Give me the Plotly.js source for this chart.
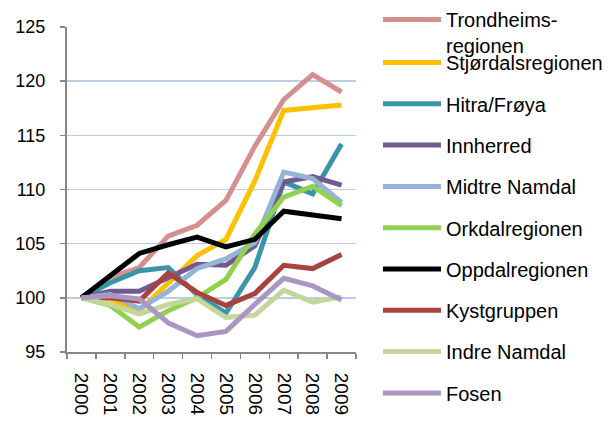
<!DOCTYPE html>
<html>
<head>
<meta charset="utf-8">
<script src="https://cdn.plot.ly/plotly-3.0.1.min.js"></script>
<style>html,body{margin:0;padding:0;background:#fff;}#chart{width:614px;height:421px;}</style>
</head>
<body>
<div id="chart"></div>
<script>
var years = ["2000","2001","2002","2003","2004","2005","2006","2007","2008","2009"];
var seriesNames = ["Trondheims-<br>regionen","Stjørdalsregionen","Hitra/Frøya","Innherred","Midtre Namdal","Orkdalregionen","Oppdalregionen","Kystgruppen","Indre Namdal","Fosen"];
var trondheims = [100, 101.9, 102.8, 105.7, 106.7, 109.0, 114.0, 118.3, 120.6, 119.0];
var stjordal   = [100, 99.9, 98.8, 101.3, 103.9, 105.4, 110.8, 117.3, 117.6, 117.8];
var hitra      = [100, 101.4, 102.5, 102.8, 100.3, 98.6, 102.8, 110.7, 109.6, 114.2];
var innherred  = [100, 100.6, 100.6, 101.9, 103.1, 103.0, 104.8, 110.7, 111.2, 110.4];
var midtre     = [100, 100.3, 99.0, 100.6, 102.7, 103.6, 105.1, 111.6, 111.0, 108.8];
var orkdal     = [100, 99.3, 97.3, 98.8, 100.0, 101.7, 105.9, 109.3, 110.3, 108.5];
var oppdal     = [100, 102.1, 104.1, 104.9, 105.6, 104.7, 105.4, 108.0, 107.6, 107.3];
var kyst       = [100, 100.0, 99.7, 102.3, 100.5, 99.3, 100.4, 103.0, 102.7, 104.0];
var indre      = [100, 99.4, 98.5, 99.4, 99.9, 98.2, 98.4, 100.7, 99.6, 100.1];
var fosen      = [100, 100.2, 99.9, 97.7, 96.5, 96.9, 99.4, 101.8, 101.1, 99.8];
var colors = ["#D4908E","#FFC000","#3A94AA","#72598F","#95B3D7","#92D050","#000000","#A8423F","#C3D69B","#A996C2"];

var allValues = [trondheims, stjordal, hitra, innherred, midtre, orkdal, oppdal, kyst, indre, fosen];
var traces = allValues.map(function(vals, i){
  return {
    x: years, y: vals, type: "scatter", mode: "lines",
    name: seriesNames[i], legendgroup: "g"+i,
    legend: i === 0 ? "legend" : "legend2",
    line: {color: colors[i], width: 5}
  };
});

var font = "Liberation Sans, Arial, sans-serif";
var legendCommon = {
  xref: "container", yref: "container",
  x: 0.6156, xanchor: "left", yanchor: "top",
  font: {family: font, size: 20, color: "#000"},
  valign: "top", itemwidth: 58, tracegroupgap: 12.3,
  maxheight: 421,
  bgcolor: "rgba(0,0,0,0)", borderwidth: 0
};
var layout = {
  width: 614, height: 421,
  margin: {l: 67, r: 258, t: 27, b: 69},
  paper_bgcolor: "#fff", plot_bgcolor: "#fff",
  showlegend: true,
  font: {family: font, size: 18, color: "#000"},
  xaxis: {
    type: "category", range: [-0.5, 9.5],
    showline: true, linecolor: "#868686", linewidth: 2,
    ticks: "outside", ticklen: 5, tickcolor: "#868686", tickwidth: 1.5,
    tickson: "boundaries", showgrid: false, zeroline: false,
    tickangle: 90, ticklabelstandoff: 15,
    tickfont: {family: font, size: 19, color: "#000"}
  },
  yaxis: {
    range: [95, 125], dtick: 5, tick0: 95,
    showline: true, linecolor: "#868686", linewidth: 2,
    ticks: "outside", ticklen: 5, tickcolor: "#868686", tickwidth: 1.5,
    showgrid: true, gridcolor: "#B9CDE5", gridwidth: 1.5, zeroline: false,
    ticklabelstandoff: 11,
    tickfont: {family: font, size: 18, color: "#000"}
  },
  legend: Object.assign({}, legendCommon, {y: 1 + 2/421}),
  legend2: Object.assign({}, legendCommon, {y: 1 - 43/421})
};
Plotly.newPlot("chart", traces, layout, {displayModeBar: false, staticPlot: true});
</script>
</body>
</html>
